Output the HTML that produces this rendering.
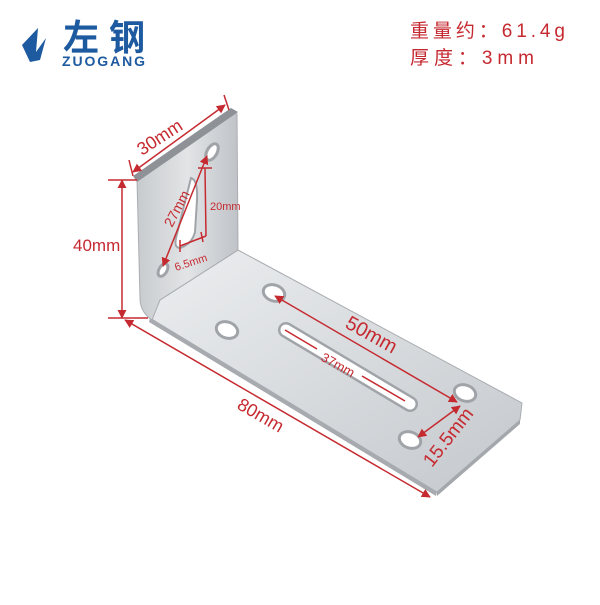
<!DOCTYPE html>
<html><head><meta charset="utf-8"><style>
body{margin:0;background:#fff;width:600px;height:600px;overflow:hidden;font-family:"Liberation Sans","Noto Sans CJK SC",sans-serif}
</style></head><body>
<svg width="600" height="600" viewBox="0 0 600 600" xmlns="http://www.w3.org/2000/svg">
<defs>
<linearGradient id="g1" x1="0" y1="0" x2="1" y2="1"><stop offset="0" stop-color="#eceef0"/><stop offset="1" stop-color="#c4c8cc"/></linearGradient>
<linearGradient id="g2" x1="0" y1="0" x2="1" y2="0"><stop offset="0" stop-color="#c8cbce"/><stop offset="0.5" stop-color="#e2e4e6"/><stop offset="1" stop-color="#bfc3c7"/></linearGradient>
<marker id="a" viewBox="0 0 10 10" refX="9" refY="5" markerWidth="6" markerHeight="6" orient="auto-start-reverse"><path d="M0,0L10,5L0,10z" fill="#c52a30"/></marker>
</defs>
<!-- logo -->
<path d="M22,45 L38,28 L36,52 L46,38 L40,60 L30,62 Z" fill="#1d5aa0"/>
<text x="63" y="50" font-size="36" font-weight="bold" fill="#1d5aa0" font-family="Noto Sans CJK SC,sans-serif" textLength="82">左钢</text>
<text x="62" y="66" font-size="14" font-weight="bold" fill="#1d5aa0" textLength="83">ZUOGANG</text>
<text x="410" y="37" font-size="19" fill="#c52a30" textLength="155" font-family="Liberation Sans,Noto Sans CJK SC,sans-serif">重量约：61.4g</text>
<text x="410" y="64" font-size="19" fill="#c52a30" textLength="124" font-family="Liberation Sans,Noto Sans CJK SC,sans-serif">厚度：3mm</text>
<!-- bracket -->
<path d="M150,318 L437,492 L520,420 L522,403 L238,250 L160,300 Z" fill="url(#g1)" stroke="#a9adb1"/>
<path d="M150,318 L437,492 L436,496 L149,322 Z" fill="#a7abaf"/>
<path d="M437,492 L520,420 L520,424 L437,496 Z" fill="#a4a8ac"/>
<path d="M137,180 L233,112 L237,114 L238,250 L160,300 L152,320 Q140,312 140,298 Z" fill="url(#g2)" stroke="#a9adb1"/>
<path d="M133,176 L231,108 L238,112 L137,182 Z" fill="#8e9297"/>
<!-- holes -->
<g fill="#fff" stroke="#a0a4a8" stroke-width="3">
<ellipse cx="274" cy="293" rx="11" ry="8" transform="rotate(20 274 293)"/>
<ellipse cx="227" cy="330" rx="11" ry="8" transform="rotate(20 227 330)"/>
<ellipse cx="465" cy="393" rx="11" ry="8" transform="rotate(20 465 393)"/>
<ellipse cx="410" cy="440" rx="11" ry="8" transform="rotate(20 410 440)"/>
<line x1="286" y1="330" x2="410" y2="404" stroke="#a0a4a8" stroke-width="16" stroke-linecap="round"/>
<line x1="286" y1="330" x2="410" y2="404" stroke="#fff" stroke-width="11" stroke-linecap="round"/>
<ellipse cx="212" cy="152" rx="5" ry="9" transform="rotate(30 212 152)"/>
<ellipse cx="163" cy="270" rx="4" ry="7" transform="rotate(30 163 270)"/>
<path d="M191,178 Q198,180 197,200 L195,232 Q192,244 180,248 Q174,248 176,238 Z" stroke-width="2"/>
</g>
<!-- dims -->
<g stroke="#c52a30" stroke-width="1.5" fill="none">
<line x1="122" y1="180" x2="122" y2="318" marker-start="url(#a)" marker-end="url(#a)"/>
<line x1="108" y1="180" x2="137" y2="180"/><line x1="108" y1="318" x2="148" y2="318"/>
<line x1="133" y1="172" x2="225" y2="105" marker-start="url(#a)" marker-end="url(#a)"/>
<line x1="129" y1="160" x2="133" y2="176"/><line x1="224" y1="95" x2="229" y2="110"/>
<line x1="125" y1="320" x2="430" y2="497" marker-start="url(#a)" marker-end="url(#a)"/>
<line x1="275" y1="296" x2="457" y2="402" marker-start="url(#a)" marker-end="url(#a)"/>
<line x1="418" y1="437" x2="460" y2="406" marker-start="url(#a)" marker-end="url(#a)"/>
<line x1="163" y1="266" x2="207" y2="156" marker-start="url(#a)" marker-end="url(#a)"/>
<line x1="205" y1="168" x2="206" y2="236"/><line x1="198" y1="168" x2="212" y2="168"/>
<line x1="180" y1="246" x2="206" y2="236"/><line x1="180" y1="240" x2="180" y2="252"/><line x1="201" y1="232" x2="203" y2="242"/>
<line x1="285" y1="330" x2="317" y2="349"/><line x1="362" y1="376" x2="405" y2="401"/>
</g>
<g fill="#c52a30" font-family="Liberation Sans,sans-serif">
<text x="73" y="251" font-size="17">40mm</text>
<text font-size="18" transform="translate(142,156) rotate(-33)">30mm</text>
<text font-size="14" transform="translate(172,228) rotate(-62)">27mm</text>
<text x="210" y="210" font-size="11">20mm</text>
<text font-size="11" transform="translate(176,271) rotate(-18)">6.5mm</text>
<text font-size="20" transform="translate(344,327) rotate(29)">50mm</text>
<text font-size="13" transform="translate(320,360) rotate(29)">37mm</text>
<text font-size="18" transform="translate(236,408) rotate(30)">80mm</text>
<text font-size="19" transform="translate(432,468) rotate(-52)">15.5mm</text>
</g>
</svg>
</body></html>
